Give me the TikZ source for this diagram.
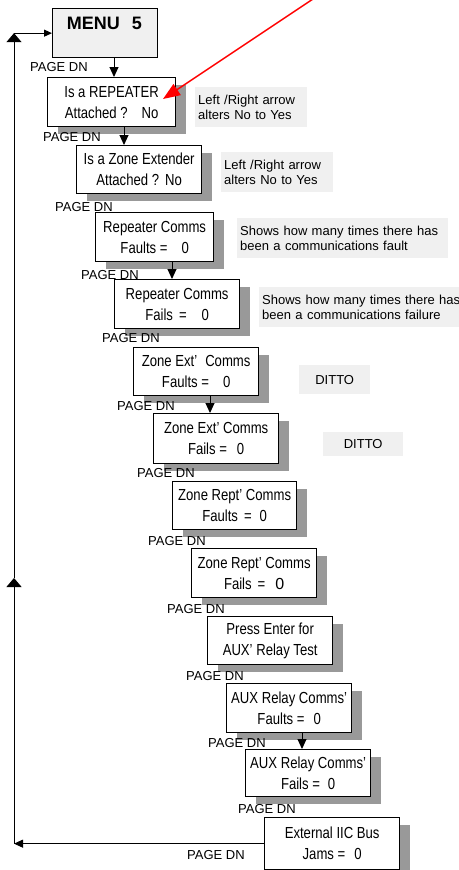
\documentclass[tikz,border=0pt]{standalone}
\usepackage{fontspec}
\setmainfont{Liberation Sans}
\newfontfamily\narrowfont[FakeStretch=0.82]{Liberation Sans}
\newfontfamily\regfont{Liberation Sans}
\usetikzlibrary{arrows.meta,shadows}
\definecolor{notegray}{RGB}{240,240,240}
\definecolor{shadowgray}{RGB}{153,153,153}
\begin{document}
\begin{tikzpicture}[x=1pt,y=-1pt,
  scr/.style={draw=black, line width=1.3pt, fill=white, inner sep=0pt, anchor=north west,
    align=center, font=\narrowfont\fontsize{16}{21}\selectfont,
    drop shadow={shadow xshift=10pt, shadow yshift=-7pt, fill=shadowgray, opacity=1}},
  menubox/.style={draw=black, line width=1.3pt, fill=notegray, inner sep=0pt, anchor=north west},
  note/.style={fill=notegray, anchor=north west, align=left, inner xsep=3pt, inner ysep=0pt,
    font=\fontsize{13}{15}\selectfont},
  ditto/.style={fill=notegray, anchor=north west, inner sep=0pt, font=\fontsize{13}{15}\selectfont},
  pg/.style={anchor=west, inner sep=0pt, font=\fontsize{13}{15}\selectfont},
  conn/.style={line width=1pt},
  down/.style={conn, -{Triangle[width=9pt,length=10pt]}},
  up/.style={conn, -{Triangle[width=15pt,length=9pt]}},
  leftarr/.style={conn, -{Triangle[width=8pt,length=9pt]}},
  rightarr/.style={conn, -{Triangle[width=7pt,length=8pt]}},
  redarr/.style={red, line width=1.5pt, -{Triangle[width=13pt,length=17pt]}}
]
\fill[white] (0,0) rectangle (458,870);
\useasboundingbox (0,0) rectangle (458,870);

% menu
\node[menubox, minimum width=105pt, minimum height=49pt] (menu) at (52,8) {};
\node[font=\bfseries\fontsize{18}{18}\selectfont, inner sep=0pt] (menut) at (104.5,23.5) {MENU\hspace{12pt}5};

% screens
\node[scr, minimum width=128pt, minimum height=49pt] (b1) at (47,77) {Is a REPEATER\\Attached ?\hspace{14pt}No};
\node[scr, minimum width=125pt, minimum height=48pt] (b2) at (76,145) {Is a Zone Extender\\Attached ?\hspace{6pt}No};
\node[scr, minimum width=118pt, minimum height=49pt] (b3) at (95,212) {Repeater Comms\\Faults =\hspace{14pt}0};
\node[scr, minimum width=125pt, minimum height=49pt] (b4) at (114,279) {Repeater Comms\\Fails\hspace{6pt}=\hspace{15pt}0};
\node[scr, minimum width=125pt, minimum height=48pt] (b5) at (133,347) {Zone Ext’\hspace{8pt}Comms\\Faults =\hspace{14pt}0};
\node[scr, minimum width=125pt, minimum height=50pt] (b6) at (153,413) {Zone Ext’ Comms\\Fails =\hspace{10pt}0};
\node[scr, minimum width=124pt, minimum height=48pt] (b7) at (172,481) {Zone Rept’ Comms\\Faults\hspace{6pt}=\hspace{8pt}0};
\node[scr, minimum width=125pt, minimum height=49pt] (b8) at (191,548) {Zone Rept’ Comms\\Fails\hspace{6pt}=\hspace{10pt}{\regfont 0}};
\node[scr, minimum width=125pt, minimum height=48pt] (b9) at (207,616) {Press Enter for\\AUX’ Relay Test};
\node[scr, minimum width=125pt, minimum height=49pt] (b10) at (226,683) {AUX Relay Comms’\\Faults =\hspace{9pt}0};
\node[scr, minimum width=125pt, minimum height=47pt] (b11) at (245,749) {AUX Relay Comms’\\Fails =\hspace{8pt}0};
\node[scr, minimum width=135pt, minimum height=52pt] (b12) at (264,817) {External IIC Bus\\Jams =\hspace{9pt}0};

% notes
\node[note, text width=106pt, minimum height=40pt] (n1) at (195,87) {Left /Right arrow\\alters No to Yes};
\node[note, text width=106pt, minimum height=40pt] (n2) at (221,152) {Left /Right arrow\\alters No to Yes};
\node[note, text width=205pt, minimum height=40pt] (n3) at (237,218) {Shows how many times there has\\been a communications fault};
\node[note, text width=205pt, minimum height=40pt] (n4) at (259,287) {Shows how many times there has\\been a communications failure};
\node[ditto, minimum width=71pt, minimum height=29pt] (d1) at (299,365) {DITTO};
\node[ditto, minimum width=80pt, minimum height=24pt] (d2) at (323,432) {DITTO};

% PAGE DN labels
\node[pg] (p1) at (30,67) {PAGE DN};
\node[pg] (p2) at (43,137) {PAGE DN};
\node[pg] (p3) at (55,207) {PAGE DN};
\node[pg] (p4) at (81,275) {PAGE DN};
\node[pg] (p5) at (102,338) {PAGE DN};
\node[pg] (p6) at (117,406) {PAGE DN};
\node[pg] (p7) at (137,473) {PAGE DN};
\node[pg] (p8) at (148,541) {PAGE DN};
\node[pg] (p9) at (167,609) {PAGE DN};
\node[pg] (p10) at (186,676) {PAGE DN};
\node[pg] (p11) at (208,743) {PAGE DN};
\node[pg] (p12) at (238,809) {PAGE DN};
\node[pg] (p13) at (187,855) {PAGE DN};

% down connectors
\draw[down] (menu.south -| 114,0) -- (b1.north -| 114,0);
\draw[down] (b1.south -| 124,0) -- (b2.north -| 124,0);
\draw[down] (b3.south -| 172,0) -- (b4.north -| 172,0);
\draw[down] (b5.south -| 210,0) -- (b6.north -| 210,0);
\draw[down] (b10.south -| 302,0) -- (b11.north -| 302,0);

% return loop
\coordinate (lc1) at (b12.west -| 14,0);
\coordinate (lmid) at (14,578);
\coordinate (lc2) at (menu.west -| 14,0);
\draw[leftarr] (b12.west) -- (lc1);
\draw[up] (lc1) -- (lmid);
\draw[up] (lmid) -- (lc2);
\draw[rightarr] (lc2) -- (menu.west);

% red pointer
\coordinate (rs) at (319,-5);
\coordinate (rt) at (163,99);
\draw[redarr] (rs) -- (rt);
\end{tikzpicture}
\end{document}
